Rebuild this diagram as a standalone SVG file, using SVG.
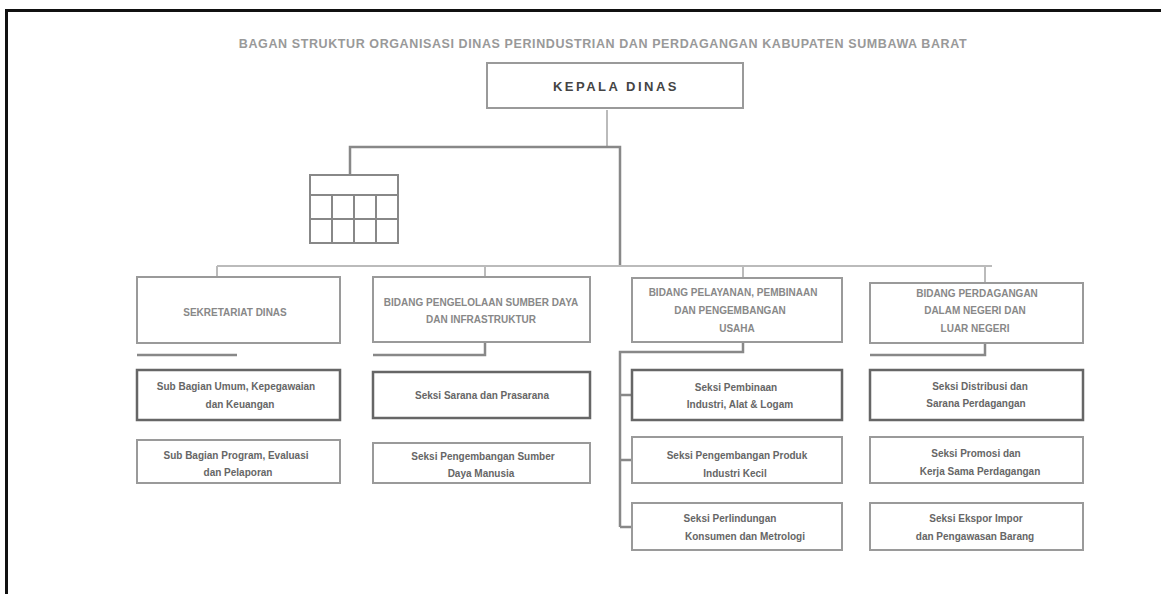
<svg xmlns="http://www.w3.org/2000/svg" width="1161" height="594" viewBox="0 0 1161 594">
<style>
text{font-family:"Liberation Sans",Arial,sans-serif;text-anchor:middle;fill:#666}
.title{font-size:12.5px;font-weight:bold;fill:#999;letter-spacing:0.6px}
.head{font-size:13px;font-weight:bold;fill:#444;letter-spacing:2.5px}
.unit{font-size:10px;font-weight:bold;fill:#888}
.sub{font-size:10px;font-weight:bold;fill:#666}
.box{fill:#fff;stroke:#9a9a9a;stroke-width:2}
.dark{fill:#fff;stroke:#666;stroke-width:2.5}
.line{fill:none;stroke:#888;stroke-width:2.5}
.lt{fill:none;stroke:#bbb;stroke-width:2}
.tbl{fill:none;stroke:#888;stroke-width:2}
</style>
<rect width="1161" height="594" fill="#fff"/>
<path d="M6.5 594 V10.5 H1161" fill="none" stroke="#111" stroke-width="3"/>
<text class="title" x="603" y="48">BAGAN STRUKTUR ORGANISASI DINAS PERINDUSTRIAN DAN PERDAGANGAN KABUPATEN SUMBAWA BARAT</text>

<g id="connectors">
<path class="lt" d="M607 110 V147"/>
<path class="line" d="M350 175 V147 H620 V266"/>
<path class="lt" d="M217 266 H992"/>
<path class="lt" d="M217 266 V277 M485 266 V277 M743 266 V278 M985 266 V283"/>
<path class="line" d="M137 355 H237"/>
<path class="line" d="M485 342 V355 H373"/>
<path class="line" d="M743 342 V352 H620 V527 M620 395 H632 M620 460 H632 M620 527 H632"/>
<path class="line" d="M870 355 H985 V343"/>
</g>

<g id="kepala">
<rect class="box" x="487" y="63" width="256" height="45"/>
<text class="head" x="616" y="91">KEPALA DINAS</text>
</g>

<g id="fungsional">
<rect class="tbl" x="310" y="175" width="88" height="68"/>
<path class="tbl" d="M310 195 H398 M310 219 H398 M332 195 V243 M354 195 V243 M376 195 V243"/>
</g>

<g id="sekretariat">
<rect class="box" x="137" y="277" width="203" height="66"/>
<text class="unit" x="235" y="316">SEKRETARIAT DINAS</text>
</g>
<g id="subbag1">
<rect class="dark" x="137" y="370" width="203" height="50"/>
<text class="sub" x="236" y="390">Sub Bagian Umum, Kepegawaian</text>
<text class="sub" x="240" y="408">dan Keuangan</text>
</g>
<g id="subbag2">
<rect class="box" x="137" y="440" width="203" height="43"/>
<text class="sub" x="236" y="459">Sub Bagian Program, Evaluasi</text>
<text class="sub" x="238" y="476">dan Pelaporan</text>
</g>

<g id="bidang1">
<rect class="box" x="373" y="277" width="217" height="65"/>
<text class="unit" x="481" y="306">BIDANG PENGELOLAAN SUMBER DAYA</text>
<text class="unit" x="481" y="323">DAN INFRASTRUKTUR</text>
</g>
<g id="seksi1a">
<rect class="dark" x="373" y="372" width="217" height="46"/>
<text class="sub" x="482" y="399">Seksi Sarana dan Prasarana</text>
</g>
<g id="seksi1b">
<rect class="box" x="373" y="443" width="217" height="40"/>
<text class="sub" x="483" y="460">Seksi Pengembangan Sumber</text>
<text class="sub" x="481" y="477">Daya Manusia</text>
</g>

<g id="bidang2">
<rect class="box" x="632" y="278" width="210" height="64"/>
<text class="unit" x="733" y="296">BIDANG PELAYANAN, PEMBINAAN</text>
<text class="unit" x="730" y="314">DAN PENGEMBANGAN</text>
<text class="unit" x="737" y="332">USAHA</text>
</g>
<g id="seksi2a">
<rect class="dark" x="632" y="370" width="210" height="50"/>
<text class="sub" x="736" y="391">Seksi Pembinaan</text>
<text class="sub" x="740" y="408">Industri, Alat &amp; Logam</text>
</g>
<g id="seksi2b">
<rect class="box" x="632" y="437" width="210" height="46"/>
<text class="sub" x="737" y="459">Seksi Pengembangan Produk</text>
<text class="sub" x="735" y="477">Industri Kecil</text>
</g>
<g id="seksi2c">
<rect class="box" x="632" y="503" width="210" height="47"/>
<text class="sub" x="730" y="522">Seksi Perlindungan</text>
<text class="sub" x="745" y="540">Konsumen dan Metrologi</text>
</g>

<g id="bidang3">
<rect class="box" x="870" y="283" width="213" height="60"/>
<text class="unit" x="977" y="297">BIDANG PERDAGANGAN</text>
<text class="unit" x="975" y="314">DALAM NEGERI DAN</text>
<text class="unit" x="975" y="332">LUAR NEGERI</text>
</g>
<g id="seksi3a">
<rect class="dark" x="870" y="370" width="213" height="50"/>
<text class="sub" x="980" y="390">Seksi Distribusi dan</text>
<text class="sub" x="976" y="407">Sarana Perdagangan</text>
</g>
<g id="seksi3b">
<rect class="box" x="870" y="437" width="213" height="46"/>
<text class="sub" x="976" y="457">Seksi Promosi dan</text>
<text class="sub" x="980" y="475">Kerja Sama Perdagangan</text>
</g>
<g id="seksi3c">
<rect class="box" x="870" y="503" width="213" height="47"/>
<text class="sub" x="976" y="522">Seksi Ekspor Impor</text>
<text class="sub" x="975" y="540">dan Pengawasan Barang</text>
</g>
</svg>
